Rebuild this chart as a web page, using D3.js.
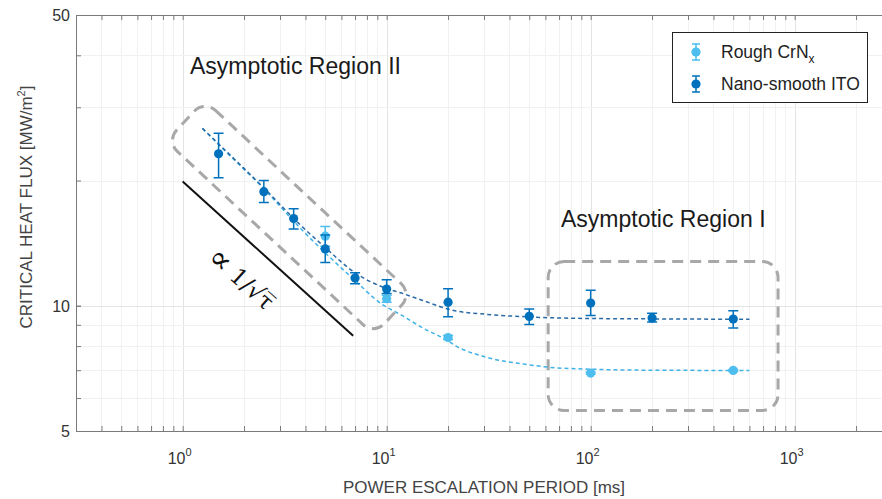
<!DOCTYPE html>
<html>
<head>
<meta charset="utf-8">
<script src="https://cdn.jsdelivr.net/npm/d3@7"></script>
<style>
  html, body { margin: 0; padding: 0; background: #fff; }
  svg { display: block; font-family: Arial, "Liberation Sans", sans-serif; }
</style>
</head>
<body>
<figure id="chf" style="margin:0"></figure>
<script>
// ---- data ----
const periodsRough = [5, 10, 20, 100, 500];
const chfRough     = [14.7, 10.4, 8.39, 6.89, 6.99];
const errLoRough   = [13.9, 10.2, 8.3, 6.85, 6.95];
const errHiRough   = [15.5, 10.6, 8.48, 6.93, 7.03];

const periodsIto = [1.5, 2.5, 3.5, 5, 7, 10, 20, 50, 100, 200, 500];
const chfIto     = [23.2, 18.8, 16.2, 13.7, 11.66, 10.97, 10.2, 9.43, 10.15, 9.34, 9.29];
const errLoIto   = [20.3, 17.7, 15.3, 12.7, 11.3, 10.7, 9.41, 9.02, 9.48, 9.14, 8.84];
const errHiIto   = [26.0, 20.0, 17.1, 14.8, 12.0, 11.55, 10.99, 9.82, 10.9, 9.6, 9.73];

// fitted curves (dashed), traced point by point
const fitPeriodsRough = [1.25, 1.5, 2.5, 3.77, 5, 7, 9.3, 11.8, 15, 19.6, 22.1, 30, 50, 61.6, 100, 200, 600];
const fitChfRough     = [26.7, 24.4, 19.1, 15.37, 13.4, 11.5, 10.15, 9.5, 8.85, 8.28, 7.98, 7.55, 7.21, 7.12, 7.04, 7.0, 6.99];
const fitPeriodsIto   = [1.25, 1.5, 2.5, 3.77, 5, 7, 10, 11.8, 15, 21.3, 30, 50, 100, 200, 600];
const fitChfIto       = [26.7, 24.5, 19.2, 15.65, 13.8, 12.0, 11.0, 10.73, 10.3, 9.74, 9.55, 9.4, 9.32, 9.3, 9.28];

// guide line proportional to 1/sqrt(t)
const guidePeriods = [1.0, 6.85];
const guideChf     = [19.9, 8.47];

const xMajor = [1, 10, 100, 1000];
const xMajorExp = ["0", "1", "2", "3"];
const yMajor = [5, 10, 50];
const yMinor = [6, 7, 8, 9, 20, 30, 40];

const W = 882, H = 499;
const mLeft = 76, mTop = 15, plotW = 816, plotH = 416;
const blueDark = "#0072bd", blueLight = "#4dbeee";

const svg = d3.select("figure#chf")
  .append("svg")
  .attr("width", W)
  .attr("height", H);

const x = d3.scaleLog().domain([0.3, 3000]).range([mLeft, mLeft + plotW]);
const y = d3.scaleLog().domain([5, 50]).range([mTop + plotH, mTop]);

// minor + major grid
let xGrid = [];
for (let k = -1; k <= 3; k++) {
  for (let m = 1; m <= 9; m++) {
    const v = m * Math.pow(10, k);
    if (v > 0.3 && v < 3000) xGrid.push(v);
  }
}
const yGrid = yMinor.concat([10]);

svg.append("g").selectAll("line")
  .data(xGrid)
  .enter().append("line")
  .attr("x1", d => Math.round(x(d)) + 0.5).attr("x2", d => Math.round(x(d)) + 0.5)
  .attr("y1", mTop).attr("y2", mTop + plotH)
  .attr("stroke", d => xMajor.includes(d) ? "#e4e4e4" : "#f1f1f1");

svg.append("g").selectAll("line")
  .data(yGrid)
  .enter().append("line")
  .attr("x1", mLeft).attr("x2", mLeft + plotW)
  .attr("y1", d => Math.round(y(d)) + 0.5).attr("y2", d => Math.round(y(d)) + 0.5)
  .attr("stroke", d => yMajor.includes(d) ? "#e4e4e4" : "#f1f1f1");

// axes (box with inward ticks)
const axisColor = "#7a7a7a";
const bottomAxis = svg.append("g")
  .attr("transform", "translate(0," + (mTop + plotH) + ")")
  .call(d3.axisBottom(x).tickValues(xGrid).tickSize(-5).tickFormat(""));
const topAxis = svg.append("g")
  .attr("transform", "translate(0," + mTop + ")")
  .call(d3.axisTop(x).tickValues(xGrid).tickSize(-5).tickFormat(""));
const leftAxis = svg.append("g")
  .attr("transform", "translate(" + mLeft + ",0)")
  .call(d3.axisLeft(y).tickValues(yGrid.concat(yMajor)).tickSize(-5).tickFormat(""));
[bottomAxis, topAxis, leftAxis].forEach(g => {
  g.selectAll("path").attr("stroke", axisColor);
  g.selectAll("line").attr("stroke", axisColor);
});

// tick labels
svg.append("g").selectAll("text")
  .data(yMajor)
  .enter().append("text")
  .attr("x", mLeft - 6)
  .attr("y", d => y(d) + 6)
  .attr("text-anchor", "end")
  .attr("font-size", 16)
  .attr("fill", "#333")
  .text(d => d);

const xl = svg.append("g").selectAll("text")
  .data(xMajor)
  .enter().append("text")
  .attr("x", d => x(d) - 3)
  .attr("y", 464)
  .attr("text-anchor", "middle")
  .attr("font-size", 16)
  .attr("fill", "#333");
xl.append("tspan").text("10");
xl.append("tspan").attr("dy", -8).attr("font-size", 11).text((d, i) => xMajorExp[i]);

// axis titles
svg.append("text")
  .attr("x", 484).attr("y", 493)
  .attr("text-anchor", "middle")
  .attr("font-size", 17)
  .attr("fill", "#444")
  .text("POWER ESCALATION PERIOD [ms]");

const yt = svg.append("text")
  .attr("transform", "translate(32,207) rotate(-90)")
  .attr("text-anchor", "middle")
  .attr("font-size", 17)
  .attr("fill", "#444");
yt.append("tspan").text("CRITICAL HEAT FLUX [MW/m");
yt.append("tspan").attr("dy", -7).attr("font-size", 11).text("2");
yt.append("tspan").attr("dy", 7).text("]");

// dashed annotation boxes
const boxStyle = sel => sel.attr("fill", "none")
  .attr("stroke", "#a8a8a8")
  .attr("stroke-width", 3)
  .attr("stroke-dasharray", "11,7");

// region II: rotated box around the steep part
const r2 = { cx: 3.33, cy: 16.3, len: 284, wid: 56, angle: 43 };
svg.append("rect")
  .attr("transform", "translate(" + x(r2.cx) + "," + y(r2.cy) + ") rotate(" + r2.angle + ")")
  .attr("x", -r2.len / 2).attr("y", -r2.wid / 2)
  .attr("width", r2.len).attr("height", r2.wid)
  .attr("rx", 15)
  .call(boxStyle);

// region I: plateau box
const r1 = { x0: 61.9, x1: 829, y0: 12.78, y1: 5.6 };
svg.append("rect")
  .attr("x", x(r1.x0)).attr("y", y(r1.y0))
  .attr("width", x(r1.x1) - x(r1.x0))
  .attr("height", y(r1.y1) - y(r1.y0))
  .attr("rx", 16)
  .call(boxStyle);

// guide line
svg.append("line")
  .attr("x1", x(guidePeriods[0])).attr("y1", y(guideChf[0]))
  .attr("x2", x(guidePeriods[1])).attr("y2", y(guideChf[1]))
  .attr("stroke", "#111")
  .attr("stroke-width", 2);

const gt = svg.append("text")
  .attr("transform", "translate(236,285) rotate(42)")
  .attr("text-anchor", "middle")
  .attr("font-size", 23)
  .attr("font-family", "'DejaVu Serif', serif")
  .attr("fill", "#111");
gt.append("tspan").attr("font-size", 32).attr("dy", 2).text("\u221D");
gt.append("tspan").attr("dy", -2).text(" 1/\u221A\u03C4\u0305");

svg.append("text")
  .attr("x", 190).attr("y", 74)
  .attr("font-size", 23)
  .attr("fill", "#1a1a1a")
  .text("Asymptotic Region II");
svg.append("text")
  .attr("x", 561).attr("y", 227)
  .attr("font-size", 23)
  .attr("fill", "#1a1a1a")
  .text("Asymptotic Region I");

// fit curves
const line = d3.line()
  .x(d => x(d[0]))
  .y(d => y(d[1]))
  .curve(d3.curveMonotoneX);

svg.append("path")
  .attr("d", line(d3.zip(fitPeriodsRough, fitChfRough)))
  .attr("fill", "none")
  .attr("stroke", "#3fb2e6")
  .attr("stroke-width", 1.5)
  .attr("stroke-dasharray", "4,3");

svg.append("path")
  .attr("d", line(d3.zip(fitPeriodsIto, fitChfIto)))
  .attr("fill", "none")
  .attr("stroke", "#2a6aa6")
  .attr("stroke-width", 1.5)
  .attr("stroke-dasharray", "4,3");

// error bar series
function drawSeries(periods, vals, lo, hi, color) {
  const g = svg.append("g");
  const rows = periods.map((p, i) => ({ p: p, v: vals[i], lo: lo[i], hi: hi[i] }));
  g.selectAll(".eb").data(rows).enter().append("path")
    .attr("d", d => {
      const cx = x(d.p), y0 = y(d.lo), y1 = y(d.hi);
      return "M" + cx + "," + y0 + "V" + y1 +
        "M" + (cx - 5) + "," + y0 + "H" + (cx + 5) +
        "M" + (cx - 5) + "," + y1 + "H" + (cx + 5);
    })
    .attr("fill", "none")
    .attr("stroke", color)
    .attr("stroke-width", 1.5);
  g.selectAll("circle").data(rows).enter().append("circle")
    .attr("cx", d => x(d.p))
    .attr("cy", d => y(d.v))
    .attr("r", 4.6)
    .attr("fill", color);
}
drawSeries(periodsRough, chfRough, errLoRough, errHiRough, blueLight);
drawSeries(periodsIto, chfIto, errLoIto, errHiIto, blueDark);

// legend
const legend = svg.append("g");
legend.append("rect")
  .attr("x", 672.5).attr("y", 32.5)
  .attr("width", 195).attr("height", 70)
  .attr("fill", "#fff")
  .attr("stroke", "#222")
  .attr("stroke-width", 1);
const legendItems = [
  { color: blueLight, y: 52, label: "Rough CrN", sub: "x" },
  { color: blueDark, y: 84, label: "Nano-smooth ITO", sub: "" }
];
legendItems.forEach(it => {
  legend.append("path")
    .attr("d", "M696," + (it.y - 8) + "V" + (it.y + 8) +
      "M692," + (it.y - 8) + "H700M692," + (it.y + 8) + "H700")
    .attr("stroke", it.color).attr("stroke-width", 1.5).attr("fill", "none");
  legend.append("circle").attr("cx", 696).attr("cy", it.y).attr("r", 4.6).attr("fill", it.color);
  const t = legend.append("text")
    .attr("x", 721).attr("y", it.y + 6)
    .attr("font-size", 17.5)
    .attr("fill", "#222");
  t.append("tspan").text(it.label);
  if (it.sub) t.append("tspan").attr("dy", 5).attr("font-size", 12).text(it.sub);
});
</script>
</body>
</html>
